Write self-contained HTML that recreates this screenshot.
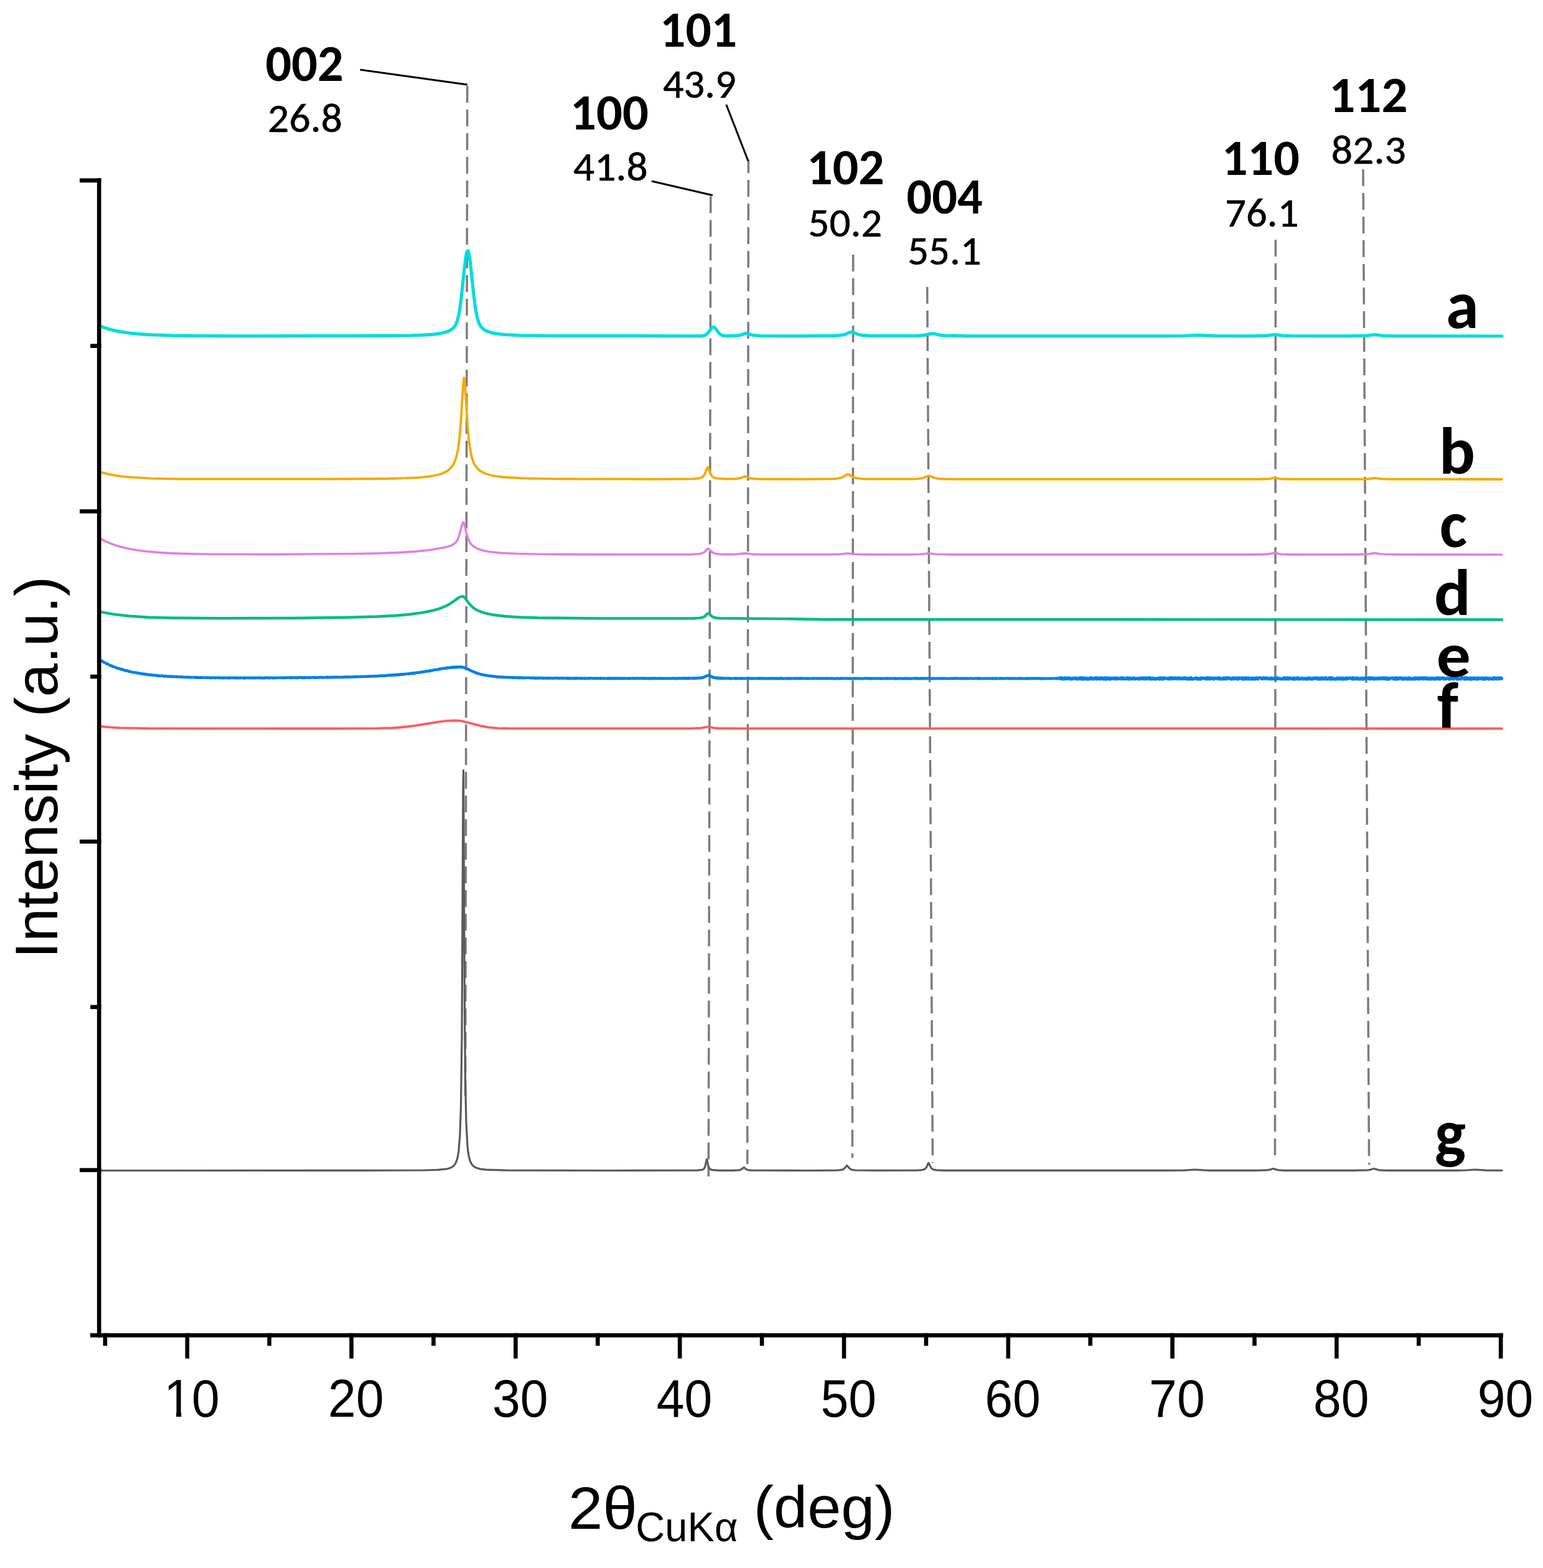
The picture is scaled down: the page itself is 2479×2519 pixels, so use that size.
<!DOCTYPE html>
<html><head><meta charset="utf-8"><title>XRD patterns</title>
<style>html,body{margin:0;padding:0;background:#fff;}svg{display:block;}</style>
</head><body>
<svg width="2479" height="2519" viewBox="0 0 2479 2519">
<rect width="2479" height="2519" fill="#fff"/>
<line x1="750.8" y1="136.0" x2="747.6" y2="1760.0" stroke-dashoffset="36.0" stroke="#7E7A7E" stroke-width="3.5" stroke-dasharray="27 11" fill="none"/>
<line x1="1141.8" y1="314.0" x2="1138.3" y2="1890.0" stroke-dashoffset="36.4" stroke="#7E7A7E" stroke-width="3.5" stroke-dasharray="27 11" fill="none"/>
<line x1="1202.4" y1="257.0" x2="1200.7" y2="1870.0" stroke-dashoffset="6.1" stroke="#7E7A7E" stroke-width="3.5" stroke-dasharray="27 11" fill="none"/>
<line x1="1370.7" y1="409.0" x2="1369.4" y2="1860.0" stroke-dashoffset="0.0" stroke="#7E7A7E" stroke-width="3.5" stroke-dasharray="27 11" fill="none"/>
<line x1="1489.7" y1="461.0" x2="1498.5" y2="1868.0" stroke-dashoffset="0.0" stroke="#7E7A7E" stroke-width="3.5" stroke-dasharray="27 11" fill="none"/>
<line x1="2049.4" y1="385.0" x2="2048.4" y2="1867.0" stroke-dashoffset="0.0" stroke="#7E7A7E" stroke-width="3.5" stroke-dasharray="27 11" fill="none"/>
<line x1="2190.0" y1="272.0" x2="2199.6" y2="1871.0" stroke-dashoffset="0.0" stroke="#7E7A7E" stroke-width="3.5" stroke-dasharray="27 11" fill="none"/>
<polyline points="578.6,112 750.8,136.1" stroke="#000" stroke-width="3" fill="none"/>
<polyline points="1166.8,168 1202,258.5" stroke="#000" stroke-width="3" fill="none"/>
<polyline points="1047,291 1144.9,313.7" stroke="#000" stroke-width="3" fill="none"/>
<path d="M161.0,524.0 171.0,527.5 181.5,530.4 193.5,532.9 206.5,534.8 221.0,536.4 237.5,537.6 279.0,539.1 322.5,539.7 390.5,539.9 625.5,539.4 658.5,539.0 681.5,538.2 697.5,537.1 709.5,535.3 719.5,532.4 723.5,530.5 726.5,528.5 729.0,526.1 731.0,523.5 733.0,519.7 734.5,515.7 737.5,503.6 740.0,487.7 746.5,427.8 748.5,412.4 750.0,405.3 751.0,403.2 751.5,403.0 752.0,403.4 753.0,406.0 755.0,417.2 761.5,477.3 764.0,496.0 766.5,509.2 769.5,519.0 771.5,523.0 774.0,526.4 777.5,529.4 781.5,531.7 786.5,533.6 793.0,535.3 809.5,537.5 837.5,538.8 884.5,539.5 1126.0,539.8 1131.0,539.2 1134.5,537.6 1137.5,534.6 1143.0,527.1 1144.5,525.8 1146.0,525.4 1147.5,525.8 1149.0,527.0 1154.5,534.5 1157.5,537.5 1161.0,539.1 1166.5,539.7 1178.5,539.5 1186.5,538.9 1191.0,538.0 1197.0,535.8 1199.0,535.4 1209.5,538.5 1222.5,539.6 1286.0,539.9 1337.5,539.4 1347.5,538.9 1354.0,538.0 1359.0,536.7 1365.5,533.9 1368.0,533.4 1370.5,533.9 1378.5,537.2 1385.5,538.6 1397.5,539.4 1418.5,539.7 1455.5,539.7 1475.5,539.3 1485.5,538.4 1495.0,536.3 1498.0,535.9 1501.0,536.3 1510.0,538.3 1517.5,539.1 1554.0,539.8 1870.0,539.9 1900.5,539.5 1924.0,538.5 1954.0,539.7 2011.5,539.8 2034.5,539.4 2048.5,537.5 2060.0,539.1 2072.0,539.7 2166.5,539.9 2194.0,539.4 2209.0,537.5 2221.5,539.3 2237.0,539.8 2413.0,540.0" stroke="#00DCE0" stroke-width="5.2" fill="none" stroke-linejoin="round" stroke-linecap="round"/>
<path d="M161.0,758.4 171.5,761.2 183.0,763.4 195.5,765.3 210.0,766.7 245.0,768.7 295.0,769.6 489.5,769.7 621.5,769.0 652.0,768.2 674.0,767.1 690.5,765.4 703.0,763.0 709.0,761.2 714.5,758.8 719.0,756.2 723.0,752.9 726.5,748.8 729.0,744.8 731.5,739.1 733.5,732.7 736.0,720.8 738.5,701.2 740.5,676.5 744.0,618.7 745.0,608.8 745.5,607.1 746.0,607.8 747.0,616.3 750.5,674.0 753.0,704.7 756.0,726.0 758.0,734.7 760.0,740.8 762.5,746.2 766.0,751.4 770.0,755.3 775.0,758.6 781.0,761.3 788.5,763.5 797.5,765.2 808.0,766.5 840.0,768.3 894.0,769.3 1051.0,769.8 1114.0,769.3 1123.5,768.3 1126.5,767.4 1129.0,766.0 1132.0,762.4 1136.0,752.0 1137.0,750.8 1138.0,752.0 1142.0,762.4 1143.5,764.6 1145.5,766.4 1148.5,767.8 1152.5,768.6 1166.0,769.4 1178.0,769.3 1185.5,768.8 1190.0,767.9 1195.5,765.6 1197.0,765.3 1206.5,768.6 1218.5,769.5 1288.5,769.8 1336.0,769.4 1345.0,768.8 1351.0,767.7 1355.0,766.1 1360.5,762.4 1362.5,761.9 1364.5,762.6 1370.5,766.6 1376.5,768.4 1387.0,769.3 1407.0,769.7 1452.5,769.7 1473.5,769.3 1482.5,768.1 1490.5,764.8 1492.5,764.4 1494.5,764.9 1500.5,767.6 1506.5,768.9 1517.0,769.5 1537.0,769.8 2018.5,769.9 2038.0,769.4 2042.0,768.8 2048.0,767.0 2054.0,768.8 2057.5,769.3 2073.5,769.9 2186.5,769.8 2198.5,769.4 2209.0,768.0 2220.0,769.4 2235.0,769.9 2413.0,770.0" stroke="#F5A900" stroke-width="3.8" fill="none" stroke-linejoin="round" stroke-linecap="round"/>
<path d="M161.0,865.3 171.0,870.4 181.5,874.6 193.0,878.3 205.5,881.3 219.0,883.8 234.5,885.8 252.0,887.4 272.0,888.6 299.5,889.6 334.0,890.2 441.5,890.5 565.5,889.7 605.5,889.0 637.0,887.9 666.5,886.1 691.0,883.5 713.0,879.8 720.0,878.1 725.5,876.1 729.0,874.1 731.5,872.1 733.5,869.7 735.5,866.2 738.5,858.0 742.5,842.0 744.0,839.1 745.0,839.8 746.0,842.5 750.0,859.1 753.0,867.7 755.0,871.5 757.0,874.2 759.5,876.7 763.0,879.2 767.5,881.5 772.5,883.4 778.5,885.0 786.0,886.4 803.5,888.3 828.5,889.5 866.5,890.2 926.5,890.6 1063.0,890.8 1112.0,890.6 1122.5,890.0 1128.5,888.8 1132.0,886.8 1136.5,882.0 1138.0,881.4 1139.5,882.4 1144.0,887.1 1148.0,889.0 1155.5,890.2 1169.0,890.6 1185.0,890.3 1197.0,888.9 1207.5,890.3 1220.0,890.7 1332.5,890.8 1349.0,890.4 1362.0,889.0 1373.0,890.3 1383.5,890.7 1457.0,890.9 1478.0,890.5 1492.0,889.0 1506.5,890.5 1532.0,890.9 2006.5,890.9 2035.5,890.4 2040.5,889.8 2048.0,888.0 2055.0,889.7 2059.0,890.3 2077.0,890.9 2186.5,890.8 2198.5,890.2 2209.0,888.5 2220.0,890.3 2235.0,890.8 2413.0,891.0" stroke="#E07FEA" stroke-width="3.6" fill="none" stroke-linejoin="round" stroke-linecap="round"/>
<path d="M161.0,982.8 182.5,986.9 208.0,989.8 238.5,991.7 278.0,992.8 355.0,993.3 473.0,993.0 552.5,992.0 607.0,990.5 635.0,989.0 658.0,987.0 677.5,984.4 694.5,981.0 706.5,977.6 716.0,973.8 724.5,969.0 737.0,960.1 740.0,958.6 743.0,958.1 744.5,958.4 746.5,960.0 754.5,970.7 760.5,976.5 764.0,978.8 768.5,981.2 778.5,984.8 792.5,987.8 810.0,990.0 833.0,991.5 863.5,992.5 967.0,993.5 1113.5,993.5 1123.5,992.9 1129.0,991.8 1132.0,990.4 1136.5,986.0 1138.0,985.3 1139.5,986.0 1143.5,990.0 1146.0,991.5 1150.5,992.7 1157.5,993.3 1258.0,994.1 1330.5,995.2 2413.0,995.5" stroke="#00BC82" stroke-width="4.4" fill="none" stroke-linejoin="round" stroke-linecap="round"/>
<path d="M161.0,1060.2 163.0,1061.7 164.0,1061.8 164.5,1062.8 165.5,1062.8 166.0,1063.7 166.5,1063.6 167.0,1064.1 168.5,1064.4 169.5,1065.5 171.0,1066.1 171.5,1065.8 172.0,1066.6 173.5,1066.8 174.0,1067.7 174.5,1067.6 176.5,1068.8 177.0,1068.6 179.0,1069.9 179.5,1069.5 180.5,1070.0 181.0,1070.8 182.5,1070.8 187.5,1073.2 188.5,1072.9 189.5,1073.9 191.0,1074.2 191.5,1074.0 192.0,1074.6 193.5,1074.5 194.5,1075.5 195.0,1074.9 195.5,1075.7 196.5,1075.4 198.0,1076.4 198.5,1075.9 199.0,1076.5 199.5,1076.2 200.0,1076.9 200.5,1076.7 201.0,1077.3 202.0,1077.2 202.5,1077.7 203.0,1077.3 203.5,1077.3 204.0,1077.8 204.5,1077.5 206.0,1078.3 207.0,1078.1 207.5,1078.9 208.0,1078.5 208.5,1079.2 209.5,1078.9 213.0,1080.1 215.0,1080.0 216.0,1080.7 217.5,1080.3 218.5,1080.9 219.0,1080.5 219.5,1081.1 220.5,1080.8 221.0,1081.4 222.5,1081.4 223.5,1081.9 224.0,1081.4 225.5,1082.4 226.0,1081.9 227.0,1082.3 230.0,1082.5 231.0,1083.1 231.5,1082.5 232.5,1083.2 233.5,1083.0 234.0,1083.5 235.0,1083.1 236.0,1083.7 236.5,1083.3 238.0,1084.0 238.5,1083.8 239.0,1084.2 239.5,1083.7 241.0,1084.4 242.5,1084.0 243.0,1084.4 243.5,1084.1 244.0,1084.7 244.5,1084.8 245.0,1084.3 247.0,1085.0 248.0,1084.6 249.0,1085.2 249.5,1084.8 251.5,1085.1 252.0,1085.6 253.0,1084.9 253.5,1085.7 254.5,1085.8 255.0,1085.4 256.0,1085.9 256.5,1085.4 257.5,1086.0 260.5,1085.6 262.0,1086.3 262.5,1085.7 263.0,1086.4 265.0,1086.6 266.0,1085.9 266.5,1086.5 267.0,1086.1 268.0,1086.6 269.0,1086.4 269.5,1086.9 271.0,1086.4 271.5,1087.0 273.5,1086.5 274.5,1087.1 275.0,1086.6 275.5,1087.1 277.0,1087.2 277.5,1086.6 278.5,1087.3 279.0,1086.7 282.0,1087.4 282.5,1086.8 284.5,1087.0 285.0,1087.7 286.0,1087.1 288.5,1087.6 291.0,1087.3 292.0,1087.8 293.0,1087.3 296.0,1088.0 297.5,1087.7 299.5,1088.1 300.5,1087.7 301.5,1088.1 302.0,1087.6 304.0,1088.4 304.5,1088.0 305.0,1088.4 307.0,1087.8 307.5,1088.4 310.0,1088.4 311.0,1087.9 311.5,1088.3 312.0,1087.9 313.0,1088.5 313.5,1087.9 314.5,1088.0 315.0,1088.6 316.0,1088.0 316.5,1088.6 317.0,1088.1 317.5,1088.7 319.0,1088.8 320.0,1088.7 320.5,1088.1 321.0,1088.7 322.0,1088.6 322.5,1088.2 323.5,1088.8 324.0,1088.2 325.5,1088.8 326.0,1088.3 328.0,1088.8 331.0,1088.3 332.0,1089.0 333.5,1088.4 334.0,1088.8 336.0,1088.7 337.0,1089.0 338.0,1088.4 339.0,1089.1 340.0,1088.7 340.5,1088.9 341.0,1088.5 342.5,1088.8 343.5,1088.6 344.5,1089.2 345.0,1088.6 346.5,1089.1 348.5,1088.5 349.0,1088.8 350.0,1088.6 351.5,1089.1 352.0,1088.6 352.5,1089.3 353.0,1088.9 357.0,1089.2 357.5,1088.8 358.5,1089.3 359.5,1088.7 361.5,1089.3 363.0,1088.7 365.5,1089.3 366.0,1088.8 366.5,1089.3 367.0,1088.8 368.0,1089.2 368.5,1088.6 369.0,1088.7 369.5,1089.2 370.0,1088.8 371.5,1089.1 372.0,1088.6 373.0,1088.9 374.0,1088.8 375.0,1089.4 376.5,1088.7 377.5,1089.1 378.0,1088.7 378.5,1089.3 379.0,1089.3 379.5,1088.7 380.0,1089.4 380.5,1088.9 381.0,1089.2 382.0,1088.9 383.5,1089.3 384.0,1088.8 385.0,1089.4 386.5,1088.7 388.0,1089.2 389.5,1088.8 390.5,1089.1 391.0,1088.8 391.5,1089.4 392.5,1088.7 393.0,1089.4 393.5,1088.8 394.5,1089.2 398.0,1088.7 399.0,1089.2 401.0,1088.9 402.0,1089.3 402.5,1088.7 404.0,1089.3 405.0,1088.9 406.5,1089.3 407.0,1088.9 407.5,1089.3 408.0,1088.7 409.0,1088.7 410.0,1089.3 411.0,1088.8 413.5,1089.2 414.5,1088.7 416.5,1089.1 417.5,1088.8 418.0,1089.2 418.5,1088.6 419.0,1089.3 420.0,1089.4 420.5,1088.9 422.5,1089.4 423.5,1088.9 424.0,1089.3 424.5,1089.0 425.5,1089.2 426.0,1088.6 426.5,1089.2 429.0,1088.7 429.5,1089.0 430.0,1088.6 432.5,1089.4 433.5,1088.7 434.0,1089.2 435.0,1088.6 436.5,1088.6 437.5,1089.3 438.0,1088.8 438.5,1089.3 439.5,1088.7 440.0,1089.2 442.5,1088.8 443.5,1089.3 446.5,1088.6 449.0,1089.1 451.0,1088.7 452.0,1089.1 453.0,1088.6 453.5,1089.2 454.5,1088.8 456.0,1089.0 457.0,1088.5 458.0,1089.1 458.5,1088.6 461.0,1088.8 462.0,1088.5 463.5,1088.8 464.5,1088.4 466.0,1089.0 466.5,1088.4 467.5,1088.7 468.0,1088.4 468.5,1089.2 469.5,1088.5 471.0,1088.9 472.5,1088.4 473.0,1088.9 473.5,1088.6 475.0,1089.1 475.5,1088.6 476.5,1088.5 477.0,1089.0 478.5,1088.4 479.5,1089.1 480.5,1088.3 483.0,1088.3 484.0,1089.0 484.5,1088.4 485.0,1089.0 485.5,1088.6 487.0,1089.0 487.5,1088.3 489.0,1089.0 489.5,1088.3 490.5,1088.9 491.0,1088.3 493.0,1088.9 493.5,1088.3 494.0,1088.8 495.5,1088.6 496.0,1088.9 497.5,1088.3 498.0,1088.8 499.5,1088.3 500.0,1088.7 502.5,1088.2 503.0,1088.7 503.5,1088.1 504.5,1088.7 505.5,1088.1 506.5,1088.7 508.0,1088.7 508.5,1088.4 509.0,1088.7 511.0,1088.1 512.0,1088.7 512.5,1088.1 513.0,1088.4 514.0,1088.0 514.5,1088.5 515.5,1088.0 516.5,1088.4 517.5,1087.9 518.5,1088.7 519.0,1088.1 521.5,1088.5 523.5,1087.9 524.0,1088.5 525.0,1087.8 525.5,1088.6 526.0,1087.9 526.5,1088.5 527.0,1087.8 528.0,1087.9 528.5,1088.4 530.5,1088.4 531.0,1088.0 531.5,1088.2 532.5,1087.8 533.0,1088.3 534.0,1088.3 534.5,1087.8 536.0,1088.2 536.5,1087.7 537.5,1088.0 538.0,1087.7 539.0,1088.2 541.0,1087.7 542.0,1088.3 542.5,1087.8 543.5,1087.6 544.5,1087.6 545.0,1088.2 546.5,1088.2 548.5,1087.7 549.0,1088.1 550.0,1088.1 551.5,1087.7 552.0,1088.1 553.0,1087.5 553.5,1088.0 554.0,1087.4 554.5,1087.4 555.0,1087.8 555.5,1087.5 556.5,1087.7 557.0,1087.3 557.5,1087.8 558.0,1087.4 560.0,1087.7 561.0,1087.2 562.0,1087.4 562.5,1087.2 563.5,1087.7 565.0,1087.8 566.5,1087.1 569.0,1087.2 569.5,1087.6 570.0,1087.1 571.0,1087.6 572.5,1087.0 573.0,1087.5 573.5,1086.8 574.5,1087.2 576.0,1086.8 578.0,1087.5 579.0,1087.4 579.5,1086.7 581.0,1086.9 582.0,1086.6 582.5,1087.0 583.0,1086.6 584.0,1086.7 584.5,1087.1 586.0,1086.4 588.0,1087.1 589.5,1086.4 590.0,1086.9 591.5,1086.9 593.5,1086.2 594.5,1086.8 595.5,1086.4 596.5,1086.8 599.0,1086.1 600.5,1086.6 602.0,1086.1 603.0,1086.4 603.5,1086.1 604.0,1086.5 604.5,1085.8 607.5,1086.3 608.5,1085.5 609.0,1085.9 610.5,1085.6 611.5,1086.1 612.0,1085.4 612.5,1085.8 613.0,1085.6 614.5,1085.9 615.5,1085.3 616.0,1085.8 616.5,1085.2 617.5,1085.7 618.5,1085.2 619.0,1085.7 621.5,1084.9 622.5,1085.5 623.0,1084.8 624.5,1084.7 626.0,1085.2 627.0,1085.1 627.5,1084.4 628.5,1085.1 629.0,1084.4 631.0,1084.6 631.5,1084.2 632.5,1084.8 633.0,1084.1 633.5,1084.7 634.0,1084.1 634.5,1084.7 636.5,1083.8 637.0,1084.3 638.0,1083.8 639.0,1084.3 639.5,1083.6 640.0,1084.2 641.5,1083.4 642.5,1084.1 643.5,1083.3 644.5,1083.2 645.5,1083.7 646.0,1083.0 647.5,1083.6 648.5,1082.9 649.5,1083.4 651.5,1082.4 652.5,1082.9 655.0,1082.4 656.0,1082.6 656.5,1082.1 657.5,1082.5 658.5,1081.8 659.0,1082.4 660.0,1081.7 661.5,1081.4 662.0,1082.1 662.5,1081.6 663.0,1081.9 664.0,1081.1 664.5,1081.7 665.5,1081.7 667.0,1081.3 667.5,1080.7 668.0,1081.0 669.0,1080.5 669.5,1080.8 672.0,1080.3 673.0,1080.7 674.5,1080.3 675.0,1079.8 675.5,1080.3 676.5,1079.5 677.5,1079.8 679.0,1079.2 679.5,1079.7 680.0,1079.2 682.0,1079.3 684.0,1078.3 685.5,1078.6 686.0,1078.0 686.5,1078.5 687.0,1078.1 687.5,1078.5 688.5,1077.7 689.5,1078.1 690.0,1077.6 690.5,1077.9 692.0,1077.2 694.5,1077.2 695.5,1076.5 697.0,1076.6 697.5,1076.1 699.5,1075.7 700.5,1076.2 701.0,1075.8 703.0,1075.8 704.5,1074.9 705.0,1075.4 705.5,1074.9 706.5,1075.2 707.0,1074.6 707.5,1074.4 708.0,1074.9 709.0,1074.1 710.5,1073.8 711.0,1074.4 711.5,1073.8 714.5,1073.7 715.5,1073.1 716.0,1073.8 717.0,1072.9 718.5,1073.4 719.0,1072.6 719.5,1072.5 721.0,1073.0 722.0,1072.5 723.5,1072.7 724.0,1072.1 725.0,1071.9 725.5,1072.3 726.0,1071.8 726.5,1072.5 728.0,1071.7 729.5,1072.2 730.5,1071.6 731.0,1072.2 732.5,1071.4 733.5,1072.0 734.0,1071.3 736.5,1071.9 738.5,1071.2 739.0,1071.4 740.0,1071.3 740.5,1071.8 741.0,1071.3 742.0,1072.0 742.5,1071.5 743.0,1072.2 743.5,1071.9 745.0,1072.0 746.5,1073.1 747.0,1073.3 747.5,1072.9 750.5,1074.7 751.5,1074.7 754.0,1076.3 754.5,1076.2 755.0,1076.8 756.0,1076.9 756.5,1077.5 758.5,1078.4 759.5,1078.4 760.5,1079.4 762.0,1079.6 762.5,1080.3 763.5,1080.1 764.5,1081.1 765.0,1080.8 765.5,1081.5 766.5,1081.2 767.0,1081.8 767.5,1081.7 768.5,1082.2 769.0,1082.0 770.0,1082.8 770.5,1082.7 771.5,1083.3 772.0,1083.1 773.5,1083.8 774.5,1083.4 775.0,1084.1 776.0,1083.9 776.5,1084.5 777.5,1084.4 778.0,1084.9 780.0,1084.5 781.0,1085.3 783.0,1085.2 783.5,1085.6 785.0,1085.4 786.5,1086.1 787.0,1085.7 789.0,1086.3 789.5,1086.0 791.5,1086.5 792.5,1086.3 793.5,1087.1 795.5,1086.6 797.0,1087.4 797.5,1086.8 798.0,1087.5 799.5,1087.1 800.0,1087.7 800.5,1087.1 801.0,1087.4 802.0,1087.2 803.0,1087.9 804.5,1087.9 805.0,1087.3 805.5,1087.8 806.5,1087.5 807.5,1088.2 808.0,1087.7 808.5,1088.1 809.0,1087.6 809.5,1088.0 810.0,1087.7 811.5,1088.3 813.5,1088.0 814.0,1088.4 814.5,1088.0 815.5,1088.3 816.5,1087.9 819.5,1088.7 821.5,1088.1 823.0,1088.8 824.0,1088.2 824.5,1088.9 825.5,1088.5 826.0,1088.8 826.5,1088.3 827.5,1088.8 829.0,1088.4 830.0,1089.0 831.0,1088.3 832.0,1089.0 833.0,1088.7 833.5,1089.2 834.5,1088.6 835.0,1089.0 835.5,1088.4 836.5,1089.0 837.5,1088.5 839.0,1089.3 839.5,1088.6 840.0,1089.2 840.5,1088.8 841.0,1089.2 843.0,1088.8 844.0,1089.2 846.0,1088.7 848.0,1089.1 849.0,1088.7 851.0,1089.2 851.5,1088.9 852.0,1089.3 855.5,1088.8 856.0,1089.4 857.0,1088.9 857.5,1089.5 859.5,1088.9 860.0,1089.6 860.5,1089.0 861.5,1089.7 862.0,1089.0 862.5,1089.3 863.5,1089.1 864.0,1089.6 865.0,1088.9 865.5,1089.3 866.0,1088.9 866.5,1089.5 867.5,1089.6 868.0,1089.0 868.5,1089.5 871.0,1089.1 871.5,1089.5 872.0,1089.0 872.5,1089.7 873.0,1089.0 873.5,1089.7 874.0,1089.1 876.0,1089.6 877.5,1089.1 879.0,1089.8 879.5,1089.0 881.0,1089.8 881.5,1089.4 884.0,1089.5 884.5,1089.1 885.5,1089.7 887.0,1089.3 889.0,1089.9 891.0,1089.2 892.5,1089.6 894.0,1089.2 895.5,1089.3 896.0,1089.8 898.0,1089.2 898.5,1089.7 902.0,1089.3 903.5,1089.8 904.0,1089.3 904.5,1089.8 907.0,1089.4 909.0,1089.9 909.5,1089.4 910.0,1089.9 911.5,1090.0 912.0,1089.3 913.0,1089.9 913.5,1089.3 914.5,1090.0 915.0,1089.5 916.0,1090.0 917.0,1089.4 918.0,1089.9 919.0,1089.5 920.0,1090.0 921.0,1089.3 921.5,1090.0 922.0,1089.5 923.0,1090.0 924.0,1089.3 924.5,1090.0 925.5,1089.4 926.0,1090.0 926.5,1089.5 927.0,1090.0 927.5,1089.5 928.5,1089.5 931.0,1089.5 932.0,1090.0 933.0,1089.9 933.5,1089.4 935.0,1089.4 935.5,1090.1 938.5,1089.4 939.0,1090.0 939.5,1089.5 940.5,1090.1 941.0,1089.5 941.5,1090.1 943.0,1089.4 943.5,1090.0 944.0,1089.6 945.0,1089.8 946.5,1089.4 947.0,1089.8 947.5,1089.4 948.0,1090.0 948.5,1089.6 950.0,1089.4 953.5,1090.0 955.5,1089.4 956.5,1090.0 957.5,1089.7 958.5,1090.0 960.5,1089.4 961.0,1089.8 963.5,1089.9 964.0,1089.5 964.5,1090.2 965.0,1089.5 965.5,1090.1 966.0,1089.5 966.5,1090.0 967.5,1089.4 968.5,1090.0 970.0,1090.2 970.5,1089.4 974.0,1090.2 975.0,1090.1 976.0,1089.5 976.5,1090.1 977.0,1089.5 977.5,1089.5 978.0,1090.1 978.5,1089.6 979.0,1089.9 979.5,1089.4 980.5,1090.0 981.0,1089.4 982.0,1090.1 982.5,1089.6 983.0,1090.0 984.5,1090.0 985.5,1089.4 987.0,1090.2 987.5,1089.6 988.0,1089.9 988.5,1089.5 989.0,1090.1 989.5,1089.8 990.5,1089.9 991.0,1089.5 991.5,1090.0 992.5,1090.1 993.0,1089.6 994.0,1089.5 994.5,1090.1 995.0,1089.8 996.5,1090.0 997.0,1089.7 998.5,1090.0 999.5,1089.5 1000.0,1090.2 1001.5,1089.7 1002.0,1090.2 1003.5,1089.5 1004.5,1089.9 1005.0,1089.7 1005.5,1090.2 1006.5,1089.8 1010.0,1090.1 1010.5,1089.6 1011.0,1090.1 1011.5,1089.7 1012.0,1090.1 1012.5,1089.5 1014.0,1090.0 1015.5,1089.5 1016.5,1089.9 1017.0,1089.4 1018.0,1089.6 1018.5,1090.2 1020.0,1089.7 1021.0,1090.1 1022.0,1089.4 1023.0,1089.8 1023.5,1089.5 1024.0,1090.1 1025.0,1089.7 1027.0,1090.1 1028.5,1089.5 1029.0,1089.9 1032.5,1089.5 1033.0,1090.1 1034.0,1089.6 1035.0,1090.0 1035.5,1089.5 1036.0,1090.1 1036.5,1089.6 1037.0,1090.3 1037.5,1089.6 1038.5,1089.7 1039.0,1090.1 1040.5,1089.6 1041.5,1090.0 1042.0,1089.5 1042.5,1090.2 1044.5,1090.0 1045.0,1090.2 1045.5,1089.7 1046.5,1089.6 1047.5,1090.1 1048.0,1089.5 1048.5,1090.1 1049.0,1089.8 1049.5,1090.2 1051.0,1090.1 1051.5,1089.5 1055.0,1090.2 1056.0,1089.7 1057.5,1090.1 1059.5,1089.6 1060.0,1090.2 1060.5,1089.5 1061.0,1090.0 1062.0,1089.6 1063.5,1090.2 1064.5,1089.9 1065.5,1090.2 1066.0,1089.6 1066.5,1090.1 1067.5,1090.2 1069.0,1089.6 1069.5,1090.0 1070.0,1089.6 1070.5,1090.1 1071.5,1090.1 1072.5,1089.7 1073.0,1090.2 1074.0,1089.8 1075.5,1090.0 1076.5,1089.7 1077.0,1090.2 1079.0,1089.6 1080.0,1090.1 1081.0,1089.6 1081.5,1090.0 1082.5,1089.7 1085.0,1090.2 1085.5,1089.5 1086.5,1090.2 1088.0,1090.1 1088.5,1089.5 1089.0,1090.1 1090.5,1089.7 1091.0,1089.9 1091.5,1089.5 1092.0,1089.8 1092.5,1089.6 1093.0,1090.2 1096.0,1089.5 1096.5,1090.1 1097.5,1090.0 1098.0,1089.5 1098.5,1090.1 1099.0,1089.4 1099.5,1089.8 1100.5,1089.4 1101.5,1090.1 1102.5,1089.6 1103.0,1090.0 1103.5,1089.7 1104.0,1090.1 1105.0,1089.4 1105.5,1090.1 1106.0,1089.4 1107.0,1090.0 1107.5,1089.4 1108.5,1090.0 1109.5,1089.6 1110.5,1089.9 1112.0,1089.5 1113.0,1090.0 1113.5,1090.0 1114.0,1089.2 1115.5,1089.8 1116.5,1089.3 1117.0,1089.8 1117.5,1089.3 1118.0,1089.9 1118.5,1089.5 1119.5,1089.7 1120.0,1089.2 1120.5,1089.6 1122.0,1088.9 1122.5,1089.4 1123.5,1089.0 1124.0,1089.4 1124.5,1088.9 1125.5,1088.7 1126.5,1089.2 1127.5,1088.4 1128.5,1088.6 1129.0,1088.2 1129.5,1088.6 1130.0,1087.8 1130.5,1088.3 1131.5,1087.9 1132.5,1086.9 1133.5,1086.8 1134.5,1085.9 1135.0,1086.2 1137.0,1085.1 1139.5,1084.8 1141.5,1085.9 1142.0,1086.8 1142.5,1086.8 1143.5,1087.5 1144.0,1087.2 1145.0,1088.2 1146.0,1087.8 1147.0,1088.7 1149.0,1088.5 1150.5,1089.2 1151.0,1088.7 1151.5,1089.5 1152.0,1088.8 1152.5,1089.6 1153.0,1089.0 1153.5,1089.5 1154.5,1089.7 1156.0,1089.3 1156.5,1089.7 1157.0,1089.2 1157.5,1089.8 1158.5,1089.2 1159.0,1089.9 1160.0,1089.2 1161.0,1089.2 1162.5,1090.0 1166.0,1089.4 1166.5,1089.8 1167.0,1089.5 1167.5,1089.9 1168.0,1089.6 1169.5,1089.9 1170.0,1089.5 1171.0,1089.9 1171.5,1089.6 1172.5,1090.2 1173.0,1089.7 1173.5,1090.2 1176.0,1090.0 1176.5,1089.6 1180.0,1090.1 1180.5,1089.6 1182.0,1090.2 1182.5,1089.5 1183.5,1090.2 1184.0,1089.8 1184.5,1090.0 1186.0,1089.8 1187.0,1090.3 1188.5,1089.7 1190.5,1090.2 1191.0,1089.5 1191.5,1090.3 1193.5,1089.6 1194.5,1090.2 1195.5,1090.2 1196.0,1089.6 1198.0,1090.1 1200.0,1089.7 1200.5,1090.1 1201.0,1089.6 1201.5,1090.0 1202.5,1089.5 1203.0,1089.9 1204.5,1089.8 1205.0,1090.3 1206.5,1089.5 1207.0,1090.3 1208.0,1089.6 1209.0,1090.1 1209.5,1089.7 1210.5,1090.1 1211.0,1089.8 1212.0,1090.3 1214.0,1089.8 1216.5,1090.1 1217.0,1089.7 1218.0,1090.3 1218.5,1089.6 1219.5,1090.3 1220.0,1089.6 1220.5,1090.2 1221.5,1089.6 1222.0,1090.0 1222.5,1089.5 1223.0,1090.2 1223.5,1089.8 1224.0,1090.3 1225.0,1089.6 1226.0,1089.7 1226.5,1090.1 1227.0,1089.6 1228.0,1089.6 1228.5,1090.2 1229.0,1089.7 1231.0,1089.9 1231.5,1090.3 1232.0,1089.8 1233.0,1090.2 1233.5,1089.7 1234.0,1089.7 1234.5,1090.2 1235.0,1089.8 1235.5,1090.2 1237.5,1089.6 1238.0,1090.2 1239.5,1089.7 1240.5,1090.2 1241.0,1089.6 1242.0,1090.0 1244.0,1089.7 1245.0,1090.3 1246.0,1089.7 1246.5,1090.3 1247.5,1089.7 1248.5,1090.2 1249.5,1089.6 1250.0,1090.3 1250.5,1089.7 1251.5,1090.3 1252.5,1090.1 1253.0,1089.6 1253.5,1090.2 1254.5,1089.6 1255.5,1090.3 1256.0,1089.6 1257.0,1090.3 1258.0,1089.8 1259.5,1090.3 1261.5,1089.7 1262.0,1090.1 1264.5,1089.7 1265.0,1090.3 1266.0,1089.6 1266.5,1090.3 1268.5,1089.7 1269.5,1090.2 1270.0,1089.8 1270.5,1090.3 1271.0,1089.8 1271.5,1090.3 1272.0,1089.7 1273.0,1089.7 1274.0,1090.0 1276.5,1089.8 1277.0,1090.3 1277.5,1089.6 1278.5,1090.2 1279.5,1089.8 1280.0,1090.3 1280.5,1089.6 1281.5,1089.6 1282.5,1090.2 1283.0,1089.8 1284.0,1090.2 1285.0,1089.6 1285.5,1090.1 1286.0,1089.6 1286.5,1090.0 1287.0,1089.7 1288.0,1090.2 1289.0,1089.8 1290.0,1090.1 1290.5,1089.6 1293.0,1090.1 1293.5,1089.8 1294.0,1090.3 1295.5,1089.6 1296.5,1089.7 1297.0,1090.3 1297.5,1089.9 1299.0,1090.3 1300.0,1089.7 1306.0,1090.1 1306.5,1089.6 1307.0,1090.2 1308.0,1089.8 1308.5,1090.3 1310.0,1089.6 1310.5,1089.9 1313.0,1089.8 1313.5,1090.2 1314.5,1089.8 1315.0,1090.2 1316.0,1089.6 1317.0,1089.6 1318.5,1090.3 1319.5,1089.7 1321.5,1090.1 1322.0,1089.6 1324.0,1090.2 1325.5,1089.8 1326.5,1090.1 1327.0,1089.6 1327.5,1090.0 1329.0,1089.8 1329.5,1090.2 1330.5,1089.7 1334.5,1090.0 1335.0,1089.6 1335.5,1090.0 1336.0,1089.8 1336.5,1090.3 1337.0,1090.3 1337.5,1089.7 1338.0,1090.1 1339.0,1089.7 1339.5,1090.3 1341.0,1090.1 1341.5,1090.3 1342.0,1090.0 1344.0,1090.2 1345.0,1089.7 1346.5,1089.8 1347.0,1090.3 1349.0,1090.1 1349.5,1089.7 1350.0,1090.2 1350.5,1089.7 1351.0,1090.3 1352.5,1089.7 1354.0,1090.1 1354.5,1089.6 1355.0,1090.3 1355.5,1089.9 1356.5,1090.2 1359.0,1089.6 1360.0,1090.2 1361.0,1089.6 1361.5,1090.2 1362.0,1089.9 1363.5,1090.1 1364.0,1089.8 1364.5,1090.2 1365.0,1089.6 1365.5,1090.2 1366.0,1089.8 1367.5,1090.2 1369.0,1089.8 1370.0,1090.2 1370.5,1089.7 1371.5,1090.3 1372.5,1089.7 1373.5,1090.3 1374.0,1089.7 1375.0,1090.3 1375.5,1089.8 1376.0,1090.2 1376.5,1089.8 1377.0,1090.2 1378.5,1089.7 1379.5,1090.1 1380.5,1089.6 1381.5,1089.8 1382.0,1090.4 1383.5,1090.2 1384.0,1089.7 1385.0,1090.3 1388.0,1090.3 1389.0,1089.6 1390.0,1089.6 1391.0,1090.0 1392.5,1089.6 1394.5,1090.3 1395.0,1089.6 1396.0,1089.6 1396.5,1090.3 1398.0,1090.2 1398.5,1089.6 1399.0,1090.3 1399.5,1089.8 1401.0,1090.2 1402.5,1089.8 1403.0,1090.2 1404.0,1089.7 1406.5,1090.2 1408.0,1089.8 1409.0,1090.3 1410.0,1089.6 1411.5,1090.3 1413.5,1089.7 1414.5,1090.4 1415.0,1089.7 1416.0,1090.3 1417.5,1089.8 1418.5,1090.3 1419.5,1089.9 1421.5,1090.2 1423.0,1089.6 1424.0,1090.2 1424.5,1089.6 1426.0,1089.7 1426.5,1090.2 1427.0,1089.7 1427.5,1090.0 1428.5,1089.9 1429.0,1090.3 1431.5,1089.7 1432.0,1090.3 1435.0,1089.6 1436.0,1090.3 1436.5,1089.7 1437.0,1090.4 1437.5,1089.9 1438.0,1090.4 1439.5,1089.7 1440.5,1090.4 1442.0,1090.0 1443.5,1090.2 1444.0,1089.8 1445.0,1090.3 1446.0,1089.6 1448.0,1090.3 1449.5,1089.7 1451.0,1090.3 1452.0,1089.8 1453.0,1090.4 1453.5,1089.6 1454.0,1089.6 1455.0,1090.2 1455.5,1089.8 1456.5,1090.2 1457.0,1090.2 1457.5,1089.6 1458.0,1090.1 1459.5,1090.3 1461.0,1090.3 1462.0,1089.7 1463.0,1090.3 1463.5,1089.8 1464.5,1090.3 1467.0,1089.6 1468.5,1090.0 1469.5,1089.6 1470.0,1090.1 1470.5,1089.7 1471.0,1089.9 1471.5,1089.6 1472.0,1090.0 1472.5,1089.7 1473.0,1090.3 1473.5,1089.9 1474.0,1090.2 1475.0,1089.8 1475.5,1090.2 1476.0,1089.8 1477.5,1090.4 1478.5,1089.6 1479.5,1090.3 1481.0,1089.7 1482.0,1090.2 1482.5,1089.7 1483.0,1090.3 1483.5,1089.8 1484.5,1090.1 1485.0,1089.8 1486.0,1090.1 1486.5,1089.8 1488.0,1090.3 1489.0,1089.7 1491.0,1090.3 1491.5,1089.7 1493.0,1089.7 1495.5,1090.4 1496.0,1090.4 1496.5,1089.8 1497.5,1090.3 1498.0,1089.6 1499.0,1089.6 1499.5,1090.3 1501.0,1089.7 1502.0,1090.4 1506.5,1089.6 1507.0,1089.6 1507.5,1090.3 1509.0,1089.9 1510.5,1090.2 1511.0,1089.8 1512.5,1090.3 1513.5,1089.6 1514.5,1090.3 1515.0,1089.7 1515.5,1090.1 1516.0,1089.7 1517.0,1090.1 1517.5,1089.7 1520.0,1090.3 1520.5,1089.8 1521.0,1090.2 1524.0,1090.1 1524.5,1089.8 1526.5,1090.3 1527.0,1089.8 1528.5,1090.1 1529.0,1089.7 1529.5,1090.1 1530.0,1089.7 1532.5,1090.4 1533.0,1089.8 1533.5,1090.3 1535.0,1089.6 1535.5,1090.3 1536.0,1089.8 1537.5,1089.8 1539.5,1089.9 1540.5,1090.3 1541.5,1089.9 1543.0,1090.2 1544.0,1089.7 1544.5,1090.2 1545.5,1089.9 1546.0,1090.1 1546.5,1089.6 1547.0,1090.2 1548.0,1090.4 1548.5,1089.7 1549.5,1090.2 1550.0,1089.7 1550.5,1090.1 1552.0,1089.6 1553.0,1090.3 1554.5,1090.4 1555.0,1089.7 1556.0,1090.3 1557.5,1089.7 1559.5,1090.1 1561.0,1089.7 1563.5,1090.3 1566.5,1089.7 1568.0,1090.2 1569.5,1089.6 1571.5,1090.3 1572.0,1089.6 1572.5,1090.4 1573.0,1089.7 1573.5,1090.4 1574.0,1090.4 1574.5,1089.8 1575.5,1089.7 1576.0,1090.3 1577.0,1090.4 1578.0,1089.9 1578.5,1090.2 1579.0,1089.9 1580.5,1090.1 1581.0,1089.8 1582.5,1090.2 1583.5,1089.9 1585.0,1090.2 1585.5,1089.7 1586.5,1089.6 1587.5,1090.3 1589.0,1090.3 1590.0,1089.8 1592.0,1090.1 1592.5,1089.6 1593.5,1090.2 1594.5,1089.7 1595.0,1090.2 1595.5,1089.7 1596.0,1090.3 1597.0,1090.3 1599.0,1089.6 1599.5,1090.3 1600.5,1089.6 1601.0,1090.3 1601.5,1090.0 1602.5,1090.3 1603.5,1089.8 1604.5,1090.1 1605.5,1089.8 1606.5,1090.0 1607.0,1089.6 1607.5,1090.2 1608.5,1089.7 1609.5,1090.1 1610.0,1089.7 1611.0,1090.2 1612.5,1089.8 1613.0,1090.4 1614.5,1089.6 1616.0,1089.9 1618.0,1089.7 1619.0,1090.0 1619.5,1089.7 1620.5,1090.3 1621.5,1090.3 1622.0,1089.7 1622.5,1090.1 1623.0,1089.8 1623.5,1090.3 1624.0,1090.0 1625.0,1090.2 1626.0,1089.7 1627.0,1090.2 1628.0,1089.6 1628.5,1089.6 1629.0,1090.2 1630.0,1089.9 1631.0,1090.2 1631.5,1089.6 1632.5,1090.4 1635.0,1089.7 1635.5,1090.2 1637.0,1089.6 1638.5,1090.3 1639.0,1090.0 1639.5,1090.3 1640.0,1089.7 1641.5,1089.8 1642.0,1090.2 1642.5,1089.9 1644.0,1089.9 1644.5,1090.3 1646.5,1089.9 1647.5,1090.4 1649.5,1089.6 1650.0,1090.3 1651.5,1089.7 1652.5,1090.2 1653.0,1089.8 1654.5,1090.0 1655.0,1089.6 1656.5,1090.2 1657.5,1089.6 1659.0,1090.2 1659.5,1089.8 1660.0,1090.4 1660.5,1089.8 1661.5,1089.6 1663.0,1090.2 1664.5,1089.6 1665.0,1090.3 1665.5,1089.8 1667.5,1090.1 1669.0,1089.6 1670.0,1090.2 1670.5,1089.7 1671.5,1090.2 1672.5,1089.7 1673.0,1090.4 1674.5,1089.8 1675.0,1090.4 1675.5,1089.9 1676.5,1090.4 1677.5,1089.7 1679.0,1089.7 1679.5,1090.3 1681.0,1089.9 1684.5,1090.3 1685.5,1089.7 1686.5,1090.3 1688.0,1089.8 1688.5,1090.2 1689.0,1089.9 1690.0,1090.2 1691.0,1089.6 1694.5,1090.3 1695.5,1089.6 1696.5,1089.9 1697.0,1089.6 1697.5,1090.2 1698.0,1089.8 1698.5,1090.2 1700.5,1089.8 1701.5,1088.5 1702.0,1089.8 1702.5,1089.2 1703.0,1089.3 1703.5,1090.8 1704.0,1090.7 1705.0,1088.6 1705.5,1090.8 1706.5,1088.8 1707.0,1090.7 1707.5,1091.2 1708.0,1089.3 1709.0,1091.2 1709.5,1090.0 1711.0,1088.6 1711.5,1091.2 1712.0,1090.9 1712.5,1089.0 1713.0,1090.4 1713.5,1089.1 1714.0,1090.7 1714.5,1089.6 1715.0,1090.6 1715.5,1090.1 1716.0,1088.7 1716.5,1090.2 1717.0,1090.4 1717.5,1088.6 1718.0,1088.6 1719.5,1091.4 1720.0,1089.8 1720.5,1091.1 1721.5,1089.3 1722.5,1091.0 1723.0,1089.9 1724.0,1090.7 1724.5,1088.9 1725.0,1089.9 1726.5,1090.6 1727.0,1089.3 1727.5,1089.9 1728.0,1089.9 1728.5,1088.8 1729.0,1090.8 1729.5,1091.4 1730.5,1089.7 1731.5,1089.8 1732.5,1089.3 1733.0,1091.3 1733.5,1089.6 1734.0,1089.1 1734.5,1090.5 1735.0,1088.5 1736.5,1090.9 1737.5,1088.6 1738.0,1091.4 1738.5,1088.5 1740.0,1091.5 1740.5,1089.6 1741.0,1089.2 1742.0,1089.6 1742.5,1088.9 1743.0,1091.2 1743.5,1090.0 1744.0,1090.7 1744.5,1089.3 1745.5,1091.2 1746.0,1089.2 1746.5,1091.4 1747.0,1089.3 1748.0,1091.3 1748.5,1089.9 1749.0,1091.3 1749.5,1089.7 1750.0,1089.8 1750.5,1091.3 1751.5,1088.6 1752.5,1090.1 1753.5,1088.7 1754.0,1090.9 1754.5,1089.5 1755.0,1091.2 1756.0,1089.0 1757.0,1091.0 1757.5,1091.2 1758.5,1089.2 1759.0,1090.1 1759.5,1089.3 1760.0,1089.6 1760.5,1088.5 1761.0,1088.5 1761.5,1091.3 1762.5,1089.2 1763.0,1090.3 1763.5,1088.6 1764.0,1091.0 1764.5,1090.3 1765.0,1090.6 1765.5,1089.8 1766.0,1089.8 1766.5,1090.9 1767.5,1088.7 1768.0,1088.8 1768.5,1091.2 1769.5,1088.7 1770.0,1090.2 1770.5,1088.9 1771.5,1090.8 1772.0,1089.2 1773.0,1091.3 1774.0,1091.1 1774.5,1088.6 1775.0,1091.4 1776.0,1088.9 1776.5,1091.4 1777.0,1088.9 1777.5,1091.4 1778.0,1088.6 1778.5,1088.7 1779.0,1089.9 1780.0,1090.2 1780.5,1090.9 1781.0,1088.8 1781.5,1090.7 1782.0,1089.5 1782.5,1091.4 1783.0,1090.4 1783.5,1090.6 1784.0,1088.9 1784.5,1091.2 1785.0,1089.4 1785.5,1089.1 1786.5,1090.8 1787.0,1089.5 1788.0,1090.3 1789.0,1088.8 1790.0,1090.6 1790.5,1090.5 1791.0,1089.1 1792.0,1091.0 1793.5,1088.6 1794.0,1091.4 1795.0,1089.3 1795.5,1090.7 1796.0,1090.2 1796.5,1090.4 1797.0,1089.6 1797.5,1090.5 1798.0,1089.6 1799.0,1089.5 1800.0,1091.1 1801.0,1088.7 1802.0,1090.8 1803.0,1088.5 1803.5,1091.0 1804.5,1088.7 1805.0,1090.7 1805.5,1090.0 1806.0,1091.0 1807.5,1091.1 1808.0,1089.6 1808.5,1090.9 1809.0,1090.0 1809.5,1090.4 1810.0,1089.1 1810.5,1090.4 1811.0,1088.7 1811.5,1091.1 1812.0,1089.0 1813.0,1091.0 1814.0,1091.1 1815.0,1088.7 1815.5,1091.4 1816.0,1089.4 1816.5,1091.1 1817.0,1089.7 1818.5,1090.1 1819.0,1090.8 1820.0,1089.0 1820.5,1090.1 1821.0,1088.8 1821.5,1091.1 1822.0,1089.0 1823.0,1090.3 1823.5,1089.5 1824.0,1091.2 1824.5,1090.9 1825.0,1089.5 1826.0,1090.7 1826.5,1090.0 1827.0,1090.4 1827.5,1089.5 1829.0,1091.2 1829.5,1089.5 1830.0,1090.9 1830.5,1089.1 1831.5,1089.2 1832.0,1091.3 1832.5,1088.8 1834.0,1090.6 1834.5,1090.5 1835.0,1088.9 1836.0,1090.7 1836.5,1088.9 1837.0,1088.9 1837.5,1091.0 1838.0,1088.5 1839.0,1089.1 1839.5,1091.0 1840.0,1089.5 1841.0,1090.1 1841.5,1091.2 1842.0,1088.6 1843.5,1090.4 1844.0,1088.9 1845.0,1090.2 1845.5,1088.7 1846.0,1089.5 1846.5,1088.7 1847.0,1091.2 1847.5,1088.5 1848.5,1090.3 1849.0,1089.2 1849.5,1090.2 1850.0,1089.5 1850.5,1091.5 1852.0,1089.0 1853.0,1090.8 1854.0,1090.6 1854.5,1090.0 1855.0,1091.3 1855.5,1089.7 1856.5,1091.4 1857.5,1089.9 1858.0,1090.9 1858.5,1090.8 1859.0,1089.4 1860.0,1090.8 1860.5,1089.6 1861.0,1089.5 1861.5,1090.1 1862.0,1088.7 1862.5,1089.3 1863.0,1091.5 1863.5,1089.2 1864.0,1090.9 1864.5,1088.5 1865.5,1090.0 1866.0,1089.4 1866.5,1091.3 1867.0,1091.4 1867.5,1089.4 1868.0,1088.9 1868.5,1091.3 1869.5,1090.0 1870.0,1088.7 1870.5,1088.5 1871.0,1090.6 1871.5,1090.5 1873.0,1089.3 1874.5,1090.3 1876.0,1089.2 1877.0,1091.3 1877.5,1089.0 1878.0,1090.8 1879.5,1088.9 1880.0,1091.0 1880.5,1088.9 1881.5,1088.8 1882.0,1090.9 1883.0,1088.5 1884.0,1090.0 1884.5,1089.9 1885.0,1088.9 1885.5,1091.0 1886.5,1089.3 1887.5,1089.3 1888.0,1088.6 1888.5,1090.3 1889.0,1089.3 1890.0,1091.0 1890.5,1089.5 1892.0,1089.9 1892.5,1088.6 1893.0,1089.7 1894.0,1088.8 1894.5,1091.0 1895.5,1090.0 1896.0,1088.7 1896.5,1090.7 1897.0,1089.6 1897.5,1091.1 1898.5,1089.2 1899.0,1090.7 1900.0,1089.6 1900.5,1090.9 1901.5,1088.9 1902.0,1088.6 1902.5,1090.3 1903.0,1089.3 1904.0,1088.6 1904.5,1090.8 1905.0,1089.3 1905.5,1091.1 1906.5,1090.9 1907.0,1089.2 1907.5,1091.3 1908.0,1090.4 1909.0,1091.2 1909.5,1089.4 1910.0,1089.6 1910.5,1091.2 1911.0,1089.4 1912.0,1088.6 1912.5,1090.2 1913.0,1089.4 1913.5,1091.3 1914.0,1088.5 1915.0,1090.6 1915.5,1090.3 1916.0,1091.0 1916.5,1090.4 1917.5,1091.4 1919.0,1089.7 1919.5,1090.1 1920.0,1089.2 1920.5,1089.3 1921.0,1090.0 1922.0,1089.7 1922.5,1088.7 1923.0,1091.4 1923.5,1089.5 1924.0,1089.9 1924.5,1089.5 1926.0,1091.3 1926.5,1090.3 1927.0,1091.3 1927.5,1089.6 1928.0,1089.9 1928.5,1089.5 1929.0,1091.4 1929.5,1088.9 1930.0,1089.2 1930.5,1090.8 1931.5,1088.7 1932.5,1089.9 1933.0,1089.9 1933.5,1089.2 1934.0,1089.5 1935.0,1089.0 1935.5,1090.0 1936.0,1089.2 1936.5,1089.1 1937.0,1091.3 1937.5,1091.2 1938.0,1089.6 1938.5,1090.1 1939.0,1088.8 1939.5,1088.5 1940.5,1091.3 1941.0,1088.7 1942.0,1090.9 1942.5,1088.5 1943.0,1090.3 1943.5,1089.3 1944.0,1090.8 1945.0,1091.1 1945.5,1090.8 1946.0,1088.8 1946.5,1090.5 1948.0,1089.1 1948.5,1089.9 1949.5,1089.7 1950.0,1091.4 1950.5,1089.2 1951.0,1091.1 1951.5,1088.9 1952.0,1090.6 1952.5,1089.8 1953.5,1089.9 1954.0,1088.9 1955.0,1089.7 1955.5,1089.1 1956.0,1091.0 1957.0,1090.4 1957.5,1090.6 1958.5,1088.5 1959.0,1088.7 1959.5,1091.1 1960.0,1090.0 1960.5,1091.4 1961.0,1089.5 1962.5,1091.0 1963.0,1089.8 1963.5,1089.9 1964.5,1089.2 1965.0,1091.2 1965.5,1091.2 1966.5,1088.9 1967.0,1091.1 1967.5,1089.9 1968.0,1090.7 1969.0,1088.7 1969.5,1090.7 1970.0,1088.8 1970.5,1091.3 1971.0,1089.0 1971.5,1089.5 1972.0,1088.5 1973.0,1090.4 1973.5,1088.8 1975.0,1088.5 1975.5,1090.0 1976.0,1089.2 1976.5,1090.8 1977.5,1090.0 1978.0,1091.3 1978.5,1091.4 1979.0,1089.4 1979.5,1090.8 1980.0,1090.6 1980.5,1089.1 1981.0,1090.8 1981.5,1088.6 1982.5,1091.2 1983.0,1090.4 1984.0,1090.5 1985.0,1088.8 1985.5,1089.6 1986.0,1089.4 1986.5,1090.9 1987.5,1091.4 1988.0,1089.5 1988.5,1091.2 1989.0,1091.2 1989.5,1088.6 1990.0,1090.1 1990.5,1088.8 1991.0,1088.7 1992.0,1090.6 1992.5,1089.0 1994.0,1090.1 1994.5,1088.9 1995.0,1089.0 1995.5,1088.5 1996.5,1091.5 1997.0,1089.1 1997.5,1090.8 1998.0,1090.4 1998.5,1091.1 1999.0,1090.9 1999.5,1088.7 2000.5,1091.0 2001.0,1090.4 2001.5,1091.1 2002.0,1088.6 2002.5,1091.0 2003.0,1089.7 2003.5,1090.9 2004.5,1089.6 2005.0,1090.1 2005.5,1088.6 2006.0,1091.3 2007.0,1090.4 2008.0,1090.7 2009.0,1089.2 2010.0,1091.4 2011.0,1090.9 2011.5,1089.0 2012.0,1089.4 2012.5,1089.3 2013.5,1091.2 2015.5,1089.0 2016.0,1089.3 2016.5,1091.4 2017.5,1090.4 2018.0,1090.6 2019.0,1088.6 2020.0,1088.5 2020.5,1089.1 2021.0,1091.4 2022.0,1089.2 2023.5,1088.5 2024.5,1089.5 2025.0,1089.0 2025.5,1089.2 2026.0,1090.4 2026.5,1088.9 2027.0,1088.9 2027.5,1090.8 2028.0,1089.3 2028.5,1090.4 2029.0,1089.3 2029.5,1090.6 2030.0,1088.5 2031.0,1091.1 2031.5,1089.4 2032.0,1090.4 2032.5,1089.1 2033.0,1088.8 2033.5,1089.8 2034.0,1089.9 2034.5,1088.6 2035.0,1090.1 2036.0,1089.6 2037.0,1091.2 2037.5,1089.7 2038.0,1089.4 2038.5,1090.8 2039.0,1090.8 2039.5,1090.0 2040.0,1090.3 2040.5,1089.5 2041.0,1090.7 2041.5,1090.2 2042.0,1091.1 2043.0,1088.7 2043.5,1091.1 2044.0,1090.3 2044.5,1090.9 2045.5,1090.8 2046.0,1089.6 2046.5,1091.1 2048.5,1088.8 2050.0,1089.5 2051.0,1091.4 2051.5,1090.2 2052.0,1090.5 2052.5,1088.5 2053.0,1090.6 2053.5,1090.1 2054.0,1090.8 2054.5,1089.5 2055.0,1090.4 2055.5,1090.0 2056.0,1090.8 2056.5,1089.8 2057.0,1091.0 2057.5,1091.1 2058.0,1090.1 2058.5,1090.0 2059.0,1090.6 2059.5,1090.1 2060.0,1091.4 2060.5,1091.3 2061.0,1090.0 2061.5,1090.6 2062.0,1088.8 2062.5,1091.2 2063.5,1088.6 2064.0,1088.5 2064.5,1091.0 2066.5,1089.2 2067.5,1091.2 2068.5,1088.6 2069.0,1089.1 2069.5,1088.7 2070.0,1091.1 2071.0,1091.3 2071.5,1089.8 2072.5,1088.7 2073.5,1089.5 2074.5,1089.5 2075.5,1091.1 2076.0,1089.6 2076.5,1090.9 2077.0,1089.4 2077.5,1089.3 2078.0,1090.9 2078.5,1088.8 2079.0,1088.7 2079.5,1091.5 2080.0,1089.9 2080.5,1089.7 2081.5,1091.2 2082.0,1089.6 2082.5,1090.9 2083.0,1088.9 2083.5,1091.2 2084.0,1089.7 2084.5,1089.6 2085.0,1088.5 2085.5,1088.7 2086.0,1089.7 2086.5,1088.8 2087.5,1091.5 2088.0,1089.4 2088.5,1090.8 2089.0,1090.2 2090.0,1090.8 2090.5,1089.9 2091.0,1091.0 2091.5,1089.0 2092.0,1090.5 2093.0,1089.1 2093.5,1089.2 2094.0,1091.3 2095.0,1090.0 2095.5,1090.0 2096.0,1091.0 2097.0,1089.2 2097.5,1091.3 2099.5,1090.5 2100.0,1089.5 2100.5,1091.4 2101.5,1089.0 2102.0,1090.9 2103.0,1088.7 2103.5,1091.1 2104.0,1089.2 2104.5,1089.8 2105.0,1088.8 2105.5,1090.1 2106.0,1090.1 2107.0,1091.4 2108.5,1089.7 2109.0,1091.3 2109.5,1089.2 2110.5,1090.2 2111.0,1089.6 2111.5,1090.2 2112.0,1088.8 2112.5,1089.2 2113.0,1088.6 2113.5,1089.8 2114.0,1089.2 2114.5,1090.9 2115.0,1089.3 2115.5,1089.1 2116.0,1090.6 2116.5,1089.1 2117.0,1091.0 2118.0,1088.9 2119.0,1091.5 2119.5,1089.4 2120.0,1090.2 2120.5,1090.1 2121.0,1091.3 2121.5,1091.5 2122.0,1088.7 2123.0,1090.9 2123.5,1089.7 2124.5,1090.2 2125.0,1088.5 2125.5,1088.6 2126.0,1091.2 2126.5,1089.7 2128.5,1091.2 2129.0,1088.7 2129.5,1090.4 2130.0,1088.5 2131.0,1090.9 2132.0,1089.6 2132.5,1091.1 2133.0,1090.6 2133.5,1091.2 2134.5,1089.4 2135.0,1090.6 2136.0,1088.5 2136.5,1088.9 2137.0,1091.4 2138.0,1088.6 2138.5,1090.8 2139.0,1090.8 2139.5,1088.6 2140.0,1091.5 2140.5,1089.0 2141.5,1090.6 2142.5,1089.5 2144.0,1091.4 2144.5,1091.1 2145.0,1091.5 2146.5,1089.6 2147.0,1091.2 2147.5,1091.3 2148.0,1089.4 2148.5,1090.9 2149.5,1088.7 2150.5,1091.2 2151.0,1090.1 2151.5,1090.9 2152.5,1090.9 2153.0,1089.4 2153.5,1091.2 2154.0,1088.7 2154.5,1090.0 2155.0,1088.7 2156.0,1091.2 2156.5,1090.9 2157.0,1091.5 2158.5,1089.0 2159.5,1091.2 2160.0,1089.5 2160.5,1091.1 2161.0,1089.4 2161.5,1090.9 2162.0,1089.1 2162.5,1091.4 2163.0,1088.8 2163.5,1088.7 2164.5,1090.8 2165.5,1089.7 2166.0,1090.6 2166.5,1089.1 2167.5,1089.4 2168.5,1088.6 2170.0,1090.3 2170.5,1089.5 2171.0,1090.3 2171.5,1089.5 2172.0,1090.9 2172.5,1088.5 2173.0,1090.8 2173.5,1091.2 2174.0,1090.2 2174.5,1090.4 2175.0,1091.4 2175.5,1088.9 2176.0,1088.8 2177.0,1090.7 2177.5,1090.1 2179.0,1089.9 2179.5,1091.1 2180.0,1088.7 2180.5,1090.5 2181.0,1088.8 2181.5,1091.0 2182.0,1089.3 2182.5,1090.9 2183.0,1089.5 2183.5,1090.4 2184.0,1090.0 2184.5,1091.4 2185.0,1089.9 2186.0,1090.0 2186.5,1089.2 2187.0,1091.3 2188.0,1088.9 2188.5,1089.1 2189.5,1091.2 2190.0,1090.3 2190.5,1091.4 2191.0,1089.2 2191.5,1091.2 2193.0,1088.8 2193.5,1089.8 2194.5,1090.0 2195.0,1090.7 2195.5,1089.2 2196.5,1089.5 2197.0,1089.0 2198.0,1090.3 2199.0,1088.9 2199.5,1090.7 2200.0,1088.8 2200.5,1091.1 2202.0,1088.5 2202.5,1091.0 2203.0,1088.6 2203.5,1090.8 2204.0,1090.1 2204.5,1090.6 2205.0,1089.1 2205.5,1090.7 2206.0,1089.3 2207.0,1091.4 2208.0,1089.0 2209.0,1089.7 2209.5,1091.0 2210.0,1090.9 2210.5,1089.7 2211.0,1090.3 2211.5,1089.6 2212.0,1090.0 2212.5,1089.4 2213.0,1091.3 2213.5,1089.6 2214.0,1089.4 2214.5,1090.4 2215.5,1088.8 2216.5,1091.0 2217.0,1089.6 2217.5,1089.3 2218.0,1089.4 2218.5,1090.3 2219.0,1089.3 2219.5,1090.1 2220.0,1090.0 2220.5,1088.6 2221.5,1091.0 2222.0,1089.1 2222.5,1090.7 2223.0,1088.7 2223.5,1090.0 2224.0,1089.8 2224.5,1090.4 2225.0,1088.5 2226.0,1089.7 2226.5,1091.2 2227.0,1090.0 2227.5,1091.1 2228.0,1090.1 2228.5,1091.5 2229.0,1088.7 2229.5,1091.1 2230.0,1089.3 2230.5,1089.2 2231.0,1090.1 2231.5,1089.7 2232.0,1091.5 2233.0,1090.7 2233.5,1089.2 2234.0,1089.2 2234.5,1089.8 2235.5,1089.2 2237.0,1089.4 2237.5,1088.8 2238.5,1091.3 2239.5,1090.3 2240.0,1091.4 2240.5,1091.3 2241.0,1088.8 2241.5,1088.6 2243.0,1091.5 2243.5,1088.6 2244.0,1090.6 2244.5,1090.9 2245.0,1089.3 2245.5,1090.8 2246.0,1091.1 2246.5,1088.8 2247.0,1090.5 2247.5,1089.9 2248.0,1090.8 2248.5,1088.9 2249.0,1090.5 2249.5,1088.5 2250.0,1088.6 2250.5,1089.8 2251.0,1089.5 2251.5,1089.8 2252.0,1089.1 2252.5,1091.5 2253.0,1089.7 2253.5,1090.0 2254.0,1089.6 2254.5,1091.1 2255.0,1089.0 2255.5,1091.3 2256.0,1089.1 2256.5,1091.1 2257.0,1089.8 2257.5,1090.3 2258.0,1089.2 2258.5,1090.9 2259.0,1089.2 2259.5,1090.9 2260.0,1090.5 2261.0,1091.5 2261.5,1090.9 2262.0,1089.0 2262.5,1090.9 2263.0,1088.8 2263.5,1090.9 2264.0,1091.3 2264.5,1088.9 2265.0,1088.6 2265.5,1090.9 2266.0,1089.5 2266.5,1090.5 2267.5,1091.3 2268.0,1090.1 2269.0,1091.2 2270.0,1089.6 2270.5,1091.2 2271.0,1089.8 2271.5,1091.2 2272.0,1089.6 2272.5,1090.0 2273.0,1088.6 2273.5,1088.8 2274.0,1091.3 2274.5,1089.9 2275.0,1090.7 2275.5,1089.9 2276.0,1090.7 2277.0,1088.9 2278.0,1090.4 2278.5,1089.0 2279.0,1091.3 2279.5,1088.7 2280.5,1091.1 2281.0,1090.7 2281.5,1088.9 2282.0,1088.8 2282.5,1090.6 2283.5,1088.8 2284.0,1088.9 2284.5,1090.5 2285.0,1088.6 2286.0,1091.3 2286.5,1089.3 2287.0,1091.0 2287.5,1088.6 2288.0,1089.1 2288.5,1088.6 2289.0,1090.7 2289.5,1090.2 2290.5,1090.9 2291.0,1090.7 2291.5,1088.8 2292.0,1089.9 2292.5,1088.6 2293.0,1090.9 2293.5,1089.6 2295.0,1091.5 2296.0,1089.7 2296.5,1091.1 2297.0,1091.0 2297.5,1089.1 2298.5,1091.3 2299.5,1091.2 2300.5,1089.0 2301.0,1091.2 2301.5,1089.1 2302.0,1090.3 2302.5,1089.7 2303.0,1091.0 2303.5,1089.6 2304.0,1089.6 2304.5,1091.0 2305.0,1090.7 2305.5,1091.5 2306.0,1088.9 2306.5,1088.9 2307.0,1090.5 2307.5,1090.0 2308.0,1091.2 2309.0,1088.6 2309.5,1089.9 2310.0,1089.2 2310.5,1090.9 2311.5,1091.1 2312.0,1088.8 2312.5,1090.2 2313.0,1089.1 2313.5,1091.4 2314.0,1088.9 2314.5,1090.4 2315.0,1090.6 2315.5,1089.1 2316.0,1090.2 2316.5,1088.9 2317.0,1088.7 2317.5,1089.3 2318.0,1088.7 2319.5,1091.3 2320.0,1089.3 2321.0,1090.6 2321.5,1089.4 2322.5,1089.6 2323.0,1091.0 2323.5,1089.6 2324.0,1090.8 2324.5,1088.9 2325.0,1089.4 2326.5,1089.0 2327.5,1090.9 2328.0,1090.5 2328.5,1091.5 2329.0,1089.4 2330.0,1089.2 2330.5,1090.0 2331.0,1088.9 2331.5,1090.9 2332.5,1088.6 2333.0,1090.0 2334.0,1089.1 2334.5,1089.4 2335.5,1091.5 2337.0,1088.6 2337.5,1089.5 2338.0,1089.2 2339.0,1089.8 2340.0,1089.0 2340.5,1091.3 2341.0,1091.3 2341.5,1090.7 2342.0,1091.3 2342.5,1090.2 2343.0,1090.7 2343.5,1089.8 2344.5,1091.0 2345.0,1090.6 2345.5,1090.9 2346.5,1089.5 2347.0,1090.9 2347.5,1091.2 2348.0,1089.2 2349.0,1088.5 2349.5,1089.2 2351.0,1089.0 2351.5,1089.4 2352.0,1089.0 2352.5,1091.4 2353.0,1088.7 2353.5,1088.5 2354.0,1091.3 2354.5,1089.6 2355.0,1090.7 2356.0,1088.5 2356.5,1088.6 2357.0,1091.3 2357.5,1088.6 2358.0,1089.8 2358.5,1089.3 2359.0,1090.4 2359.5,1089.6 2360.0,1090.9 2360.5,1089.1 2361.5,1091.4 2362.0,1090.1 2362.5,1091.4 2363.0,1088.6 2363.5,1091.1 2364.0,1089.7 2364.5,1091.5 2365.5,1089.3 2366.0,1090.8 2366.5,1089.0 2367.5,1090.7 2368.0,1089.0 2368.5,1088.7 2369.0,1091.0 2369.5,1089.1 2370.0,1090.8 2371.0,1089.1 2371.5,1091.1 2372.0,1089.6 2372.5,1089.3 2373.0,1091.2 2373.5,1091.5 2374.0,1089.5 2374.5,1091.4 2375.0,1088.8 2375.5,1090.9 2376.5,1089.2 2377.0,1089.7 2377.5,1089.5 2378.0,1090.5 2378.5,1089.8 2379.0,1089.8 2379.5,1090.5 2380.5,1088.7 2381.5,1091.1 2382.0,1089.2 2382.5,1089.3 2383.0,1091.2 2383.5,1089.0 2384.0,1091.4 2384.5,1089.4 2385.0,1089.1 2386.0,1091.2 2386.5,1089.9 2388.0,1088.5 2388.5,1090.6 2389.0,1090.7 2389.5,1089.4 2390.5,1090.8 2391.5,1090.5 2392.0,1091.2 2392.5,1089.2 2393.0,1091.4 2394.0,1089.5 2394.5,1090.5 2395.0,1089.4 2396.0,1091.0 2397.0,1090.3 2398.0,1091.1 2399.0,1088.7 2399.5,1091.3 2400.0,1088.7 2400.5,1089.8 2401.0,1088.8 2402.0,1090.8 2402.5,1088.6 2403.0,1090.0 2403.5,1089.7 2404.5,1091.2 2405.5,1088.7 2406.5,1089.9 2407.0,1089.0 2407.5,1091.1 2408.0,1089.6 2409.0,1089.1 2410.0,1090.9 2410.5,1088.8 2411.0,1090.0 2412.0,1088.7 2413.0,1090.4" stroke="#0580E8" stroke-width="4.4" fill="none" stroke-linejoin="round" stroke-linecap="round"/>
<path d="M161.0,1166.9 176.0,1168.3 193.5,1169.3 244.0,1170.3 536.5,1170.5 605.5,1170.2 629.5,1169.5 649.5,1168.0 668.0,1165.6 708.0,1159.1 720.0,1157.9 731.0,1157.5 738.0,1157.9 745.0,1159.0 771.5,1165.9 784.5,1168.4 800.0,1169.9 822.0,1170.4 1107.5,1170.3 1126.0,1169.7 1138.0,1167.5 1146.5,1169.3 1153.0,1170.0 1187.5,1170.4 2413.0,1170.5" stroke="#FF5C5C" stroke-width="3.8" fill="none" stroke-linejoin="round" stroke-linecap="round"/>
<path d="M161.0,1880.5 582.5,1880.4 681.0,1880.0 703.0,1879.4 716.0,1878.2 720.5,1877.3 724.0,1876.1 727.0,1874.4 729.5,1872.2 732.0,1868.6 734.0,1863.7 735.5,1857.8 737.0,1848.2 739.0,1822.3 740.5,1777.5 742.0,1665.0 744.0,1269.3 744.5,1237.7 746.5,1625.1 747.5,1731.4 749.0,1803.0 751.0,1840.4 752.0,1849.8 753.5,1858.7 755.5,1865.7 758.0,1870.6 761.0,1873.8 765.5,1876.3 772.0,1878.1 781.0,1879.1 814.5,1880.1 986.5,1880.5 1120.0,1880.2 1127.5,1879.4 1129.5,1878.7 1131.0,1877.5 1132.0,1876.0 1133.0,1873.4 1135.0,1863.5 1135.5,1862.5 1136.0,1863.5 1138.0,1873.4 1139.0,1876.0 1140.5,1878.0 1142.5,1879.1 1145.0,1879.7 1156.5,1880.3 1177.5,1880.3 1187.0,1879.9 1191.0,1878.8 1195.0,1875.5 1196.0,1875.8 1198.5,1878.2 1200.5,1879.3 1203.5,1879.9 1209.0,1880.2 1299.0,1880.5 1344.0,1880.1 1350.5,1879.6 1354.5,1878.6 1357.0,1876.7 1360.5,1872.5 1361.5,1872.9 1364.5,1876.8 1366.5,1878.3 1369.5,1879.4 1374.5,1880.0 1407.5,1880.4 1474.0,1880.2 1482.0,1879.5 1486.0,1878.0 1488.5,1875.2 1491.0,1869.5 1492.0,1868.5 1496.0,1876.3 1497.5,1877.8 1499.0,1878.7 1505.0,1879.9 1517.5,1880.3 1876.5,1880.4 1903.0,1880.1 1920.0,1879.0 1933.0,1879.9 1944.5,1880.3 2016.0,1880.4 2035.5,1879.9 2039.5,1879.2 2045.5,1877.5 2053.0,1879.6 2063.0,1880.3 2174.5,1880.4 2197.0,1879.9 2201.0,1879.3 2207.0,1877.5 2216.0,1879.8 2228.5,1880.3 2340.5,1880.3 2355.5,1880.0 2370.0,1879.0 2387.0,1880.1 2413.0,1880.4" stroke="#5A5A5A" stroke-width="3.2" fill="none" stroke-linejoin="round" stroke-linecap="round"/>
<line x1="159.2" y1="286.2" x2="159.2" y2="2148.5" stroke="#000" fill="none" stroke-width="6.6"/>
<line x1="145" y1="2145.1" x2="2415" y2="2145.1" stroke="#000" fill="none" stroke-width="6.6"/>
<line x1="128.0" y1="289.9" x2="162.5" y2="289.9" stroke="#000" fill="none" stroke-width="6.6"/>
<line x1="145.2" y1="555.7" x2="162.5" y2="555.7" stroke="#000" fill="none" stroke-width="6.6"/>
<line x1="128.0" y1="821.5" x2="162.5" y2="821.5" stroke="#000" fill="none" stroke-width="6.6"/>
<line x1="145.2" y1="1087.0" x2="162.5" y2="1087.0" stroke="#000" fill="none" stroke-width="6.6"/>
<line x1="128.0" y1="1352.0" x2="162.5" y2="1352.0" stroke="#000" fill="none" stroke-width="6.6"/>
<line x1="145.2" y1="1617.8" x2="162.5" y2="1617.8" stroke="#000" fill="none" stroke-width="6.6"/>
<line x1="128.0" y1="1879.7" x2="162.5" y2="1879.7" stroke="#000" fill="none" stroke-width="6.6"/>
<line x1="168.9" y1="2141.8" x2="168.9" y2="2162.0" stroke="#000" fill="none" stroke-width="6.6"/>
<line x1="300.8" y1="2141.8" x2="300.8" y2="2182.5" stroke="#000" fill="none" stroke-width="6.6"/>
<line x1="432.7" y1="2141.8" x2="432.7" y2="2162.0" stroke="#000" fill="none" stroke-width="6.6"/>
<line x1="564.6" y1="2141.8" x2="564.6" y2="2182.5" stroke="#000" fill="none" stroke-width="6.6"/>
<line x1="696.5" y1="2141.8" x2="696.5" y2="2162.0" stroke="#000" fill="none" stroke-width="6.6"/>
<line x1="828.4" y1="2141.8" x2="828.4" y2="2182.5" stroke="#000" fill="none" stroke-width="6.6"/>
<line x1="960.3" y1="2141.8" x2="960.3" y2="2162.0" stroke="#000" fill="none" stroke-width="6.6"/>
<line x1="1092.2" y1="2141.8" x2="1092.2" y2="2182.5" stroke="#000" fill="none" stroke-width="6.6"/>
<line x1="1224.1" y1="2141.8" x2="1224.1" y2="2162.0" stroke="#000" fill="none" stroke-width="6.6"/>
<line x1="1356.0" y1="2141.8" x2="1356.0" y2="2182.5" stroke="#000" fill="none" stroke-width="6.6"/>
<line x1="1487.9" y1="2141.8" x2="1487.9" y2="2162.0" stroke="#000" fill="none" stroke-width="6.6"/>
<line x1="1619.8" y1="2141.8" x2="1619.8" y2="2182.5" stroke="#000" fill="none" stroke-width="6.6"/>
<line x1="1751.7" y1="2141.8" x2="1751.7" y2="2162.0" stroke="#000" fill="none" stroke-width="6.6"/>
<line x1="1883.6" y1="2141.8" x2="1883.6" y2="2182.5" stroke="#000" fill="none" stroke-width="6.6"/>
<line x1="2015.5" y1="2141.8" x2="2015.5" y2="2162.0" stroke="#000" fill="none" stroke-width="6.6"/>
<line x1="2147.4" y1="2141.8" x2="2147.4" y2="2182.5" stroke="#000" fill="none" stroke-width="6.6"/>
<line x1="2279.3" y1="2141.8" x2="2279.3" y2="2162.0" stroke="#000" fill="none" stroke-width="6.6"/>
<line x1="2411.2" y1="2141.8" x2="2411.2" y2="2182.5" stroke="#000" fill="none" stroke-width="6.6"/>
<text transform="translate(426.39 129.80) scale(1.0067 1.0111)" font-family="Carlito, 'Liberation Sans', sans-serif" font-weight="bold" font-size="82" fill="#000">002</text>
<text transform="translate(430.12 211.80) scale(1.0252 0.9850)" font-family="Carlito, 'Liberation Sans', sans-serif" font-weight="normal" font-size="66" fill="#000" stroke="#000" stroke-width="0.6">26.8</text>
<text transform="translate(1060.03 74.60) scale(0.9957 0.9926)" font-family="Carlito, 'Liberation Sans', sans-serif" font-weight="bold" font-size="82" fill="#000">101</text>
<text transform="translate(1065.00 156.50) scale(1.0044 0.9850)" font-family="Carlito, 'Liberation Sans', sans-serif" font-weight="normal" font-size="66" fill="#000" stroke="#000" stroke-width="0.6">43.9</text>
<text transform="translate(915.93 208.00) scale(1.0111 0.9926)" font-family="Carlito, 'Liberation Sans', sans-serif" font-weight="bold" font-size="82" fill="#000">100</text>
<text transform="translate(920.98 290.00) scale(1.0230 0.9850)" font-family="Carlito, 'Liberation Sans', sans-serif" font-weight="normal" font-size="66" fill="#000" stroke="#000" stroke-width="0.6">41.8</text>
<text transform="translate(1296.21 295.70) scale(0.9983 0.9944)" font-family="Carlito, 'Liberation Sans', sans-serif" font-weight="bold" font-size="82" fill="#000">102</text>
<text transform="translate(1298.55 380.00) scale(1.0153 0.9850)" font-family="Carlito, 'Liberation Sans', sans-serif" font-weight="normal" font-size="66" fill="#000" stroke="#000" stroke-width="0.6">50.2</text>
<text transform="translate(1456.44 342.80) scale(0.9802 0.9870)" font-family="Carlito, 'Liberation Sans', sans-serif" font-weight="bold" font-size="82" fill="#000">004</text>
<text transform="translate(1458.16 425.00) scale(1.0135 0.9850)" font-family="Carlito, 'Liberation Sans', sans-serif" font-weight="normal" font-size="66" fill="#000" stroke="#000" stroke-width="0.6">55.1</text>
<text transform="translate(1962.99 281.00) scale(1.0009 0.9852)" font-family="Carlito, 'Liberation Sans', sans-serif" font-weight="bold" font-size="82" fill="#000">110</text>
<text transform="translate(1968.27 363.80) scale(1.0099 0.9850)" font-family="Carlito, 'Liberation Sans', sans-serif" font-weight="normal" font-size="66" fill="#000" stroke="#000" stroke-width="0.6">76.1</text>
<text transform="translate(2135.22 180.30) scale(1.0138 0.9926)" font-family="Carlito, 'Liberation Sans', sans-serif" font-weight="bold" font-size="82" fill="#000">112</text>
<text transform="translate(2138.72 262.70) scale(1.0270 0.9850)" font-family="Carlito, 'Liberation Sans', sans-serif" font-weight="normal" font-size="66" fill="#000" stroke="#000" stroke-width="0.6">82.3</text>
<text transform="translate(2323.07 527.10) scale(1.0070 1.0250)" font-family="Carlito, 'Liberation Sans', sans-serif" font-weight="bold" font-size="106" fill="#000">a</text>
<text transform="translate(2311.88 761.20) scale(1.0208 1.0203)" font-family="Carlito, 'Liberation Sans', sans-serif" font-weight="bold" font-size="106" fill="#000">b</text>
<text transform="translate(2312.81 878.50) scale(0.9975 1.0096)" font-family="Carlito, 'Liberation Sans', sans-serif" font-weight="bold" font-size="106" fill="#000">c</text>
<text transform="translate(2303.89 988.40) scale(1.0362 0.9932)" font-family="Carlito, 'Liberation Sans', sans-serif" font-weight="bold" font-size="106" fill="#000">d</text>
<text transform="translate(2307.80 1087.10) scale(1.0340 0.9558)" font-family="Carlito, 'Liberation Sans', sans-serif" font-weight="bold" font-size="106" fill="#000">e</text>
<text transform="translate(2308.67 1169.40) scale(1.0281 0.9959)" font-family="Carlito, 'Liberation Sans', sans-serif" font-weight="bold" font-size="106" fill="#000">f</text>
<text transform="translate(2305.01 1856.59) scale(0.9957 1.0171)" font-family="Carlito, 'Liberation Sans', sans-serif" font-weight="bold" font-size="106" fill="#000">g</text>
<text transform="translate(913.02 2455.70) scale(0.9960 0.9589)" font-family="'Liberation Sans', Arial, sans-serif" font-weight="normal" font-size="100" fill="#000">2θ</text>
<text transform="translate(1021.30 2476.20) scale(1.0013 1.0311)" font-family="'Liberation Sans', Arial, sans-serif" font-weight="normal" font-size="65" fill="#000">CuKα</text>
<text transform="translate(1210.77 2454.27) scale(0.9715 0.9394)" font-family="'Liberation Sans', Arial, sans-serif" font-weight="normal" font-size="100" fill="#000">(deg)</text>
<text transform="translate(263.30 2276.40) scale(0.9480 1.0000)" font-family="'Liberation Sans', Arial, sans-serif" font-size="85" fill="#000">10</text>
<text transform="translate(527.10 2276.40) scale(0.9480 1.0000)" font-family="'Liberation Sans', Arial, sans-serif" font-size="85" fill="#000">20</text>
<text transform="translate(790.90 2276.40) scale(0.9480 1.0000)" font-family="'Liberation Sans', Arial, sans-serif" font-size="85" fill="#000">30</text>
<text transform="translate(1054.70 2276.40) scale(0.9480 1.0000)" font-family="'Liberation Sans', Arial, sans-serif" font-size="85" fill="#000">40</text>
<text transform="translate(1318.50 2276.40) scale(0.9480 1.0000)" font-family="'Liberation Sans', Arial, sans-serif" font-size="85" fill="#000">50</text>
<text transform="translate(1582.30 2276.40) scale(0.9480 1.0000)" font-family="'Liberation Sans', Arial, sans-serif" font-size="85" fill="#000">60</text>
<text transform="translate(1846.10 2276.40) scale(0.9480 1.0000)" font-family="'Liberation Sans', Arial, sans-serif" font-size="85" fill="#000">70</text>
<text transform="translate(2109.90 2276.40) scale(0.9480 1.0000)" font-family="'Liberation Sans', Arial, sans-serif" font-size="85" fill="#000">80</text>
<text transform="translate(2373.70 2276.40) scale(0.9480 1.0000)" font-family="'Liberation Sans', Arial, sans-serif" font-size="85" fill="#000">90</text>
<rect x="267.5" y="2268.3" width="15.6" height="9" fill="#fff"/>
<rect x="291.2" y="2268.3" width="14" height="9" fill="#fff"/>
<text transform="translate(92.34 1540.03) rotate(-90) scale(0.9697 0.9553)" font-family="'Liberation Sans', Arial, sans-serif" font-size="100" fill="#000">Intensity (a.u.)</text>
</svg>
</body></html>
